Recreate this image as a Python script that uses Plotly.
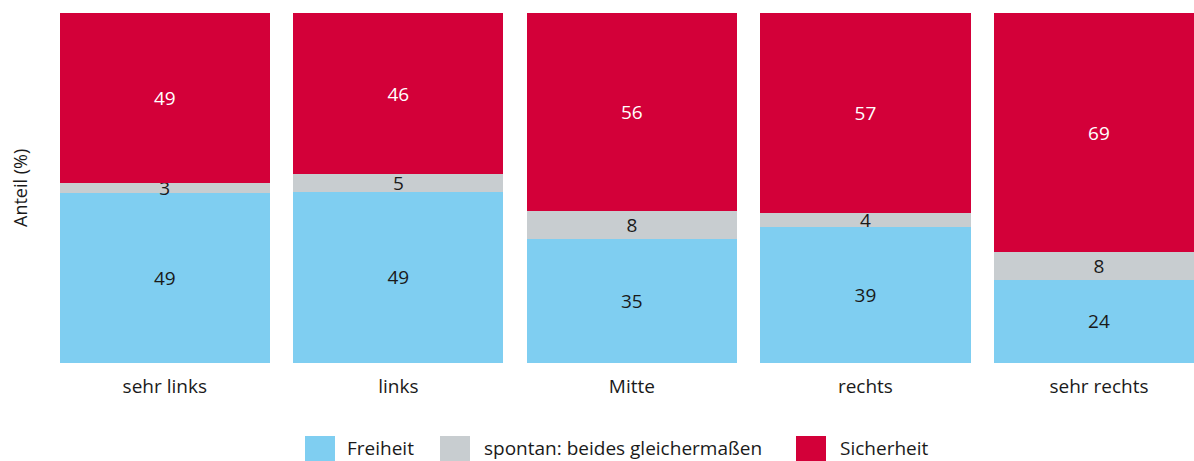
import plotly.graph_objects as go

categories = ["sehr links", "links", "Mitte", "rechts", "sehr rechts"]
freiheit = [49, 49, 35, 39, 24]
beides = [3, 5, 8, 4, 8]
sicherheit = [49, 46, 56, 57, 69]

series_names = ["Freiheit", "spontan: beides gleichermaßen", "Sicherheit"]
colors = ["#7FCEF1", "#C8CDD0", "#D30039"]
text_colors = ["#1a1a1a", "#1a1a1a", "#ffffff"]

FONT = "Open Sans"
W, H = 1194, 461
L, R, T, B = 48, 0, 13, 98

fig = go.Figure()
for name, vals, col, tcol in zip(series_names, [freiheit, beides, sicherheit], colors, text_colors):
    fig.add_trace(go.Bar(
        x=categories, y=vals, name=name, marker=dict(color=col, line=dict(width=0)),
        text=[str(v) for v in vals], textposition="inside", insidetextanchor="middle",
        textangle=0, textfont=dict(family=FONT, size=19, color=tcol), constraintext="none",
        cliponaxis=False, showlegend=False, hoverinfo="skip",
    ))

fig.update_layout(
    width=W, height=H, barmode="stack", barnorm="percent", bargap=0.1,
    margin=dict(l=L, r=R, t=T, b=B, pad=0),
    paper_bgcolor="white", plot_bgcolor="white",
    font=dict(family=FONT, size=19, color="#1a1a1a"),
    uniformtext=dict(mode=False),
)
fig.update_xaxes(range=[-0.5, 4.407], showgrid=False, showline=False, zeroline=False,
                 ticks="", tickfont=dict(family=FONT, size=19, color="#1a1a1a"), ticklabelstandoff=10)
fig.update_yaxes(range=[0, 100], showgrid=False, showline=False, zeroline=False,
                 showticklabels=False, ticks="")

pw = W - L - R
ph = H - T - B
def px_x(x):
    return (x - L) / pw
def px_y(y):
    return (H - B - y) / ph

# Y axis title
fig.add_annotation(text="Anteil (%)", textangle=-90, xref="paper", yref="paper",
                   x=px_x(20), y=px_y(188), xanchor="center", yanchor="middle",
                   showarrow=False, font=dict(family=FONT, size=18, color="#1a1a1a"))

# Legend (custom keys)
legend_items = [(305, 345), (440, 482), (796, 838)]
for (sx, tx), name, col in zip(legend_items, series_names, colors):
    fig.add_shape(type="rect", xref="paper", yref="paper",
                  x0=px_x(sx), x1=px_x(sx + 30), y0=px_y(436), y1=px_y(470),
                  fillcolor=col, line=dict(width=0))
    fig.add_annotation(text=name, xref="paper", yref="paper", x=px_x(tx), y=px_y(448),
                       xanchor="left", yanchor="middle", showarrow=False,
                       font=dict(family=FONT, size=19, color="#1a1a1a"))

fig.write_html("out.html", config={"displayModeBar": False})

with open("out.html", "r", encoding="utf-8") as f:
    html = f.read()
html = html.replace("<head>", "<head><style>html,body{margin:0;padding:0;overflow:hidden;}</style>", 1)
with open("out.html", "w", encoding="utf-8") as f:
    f.write(html)
